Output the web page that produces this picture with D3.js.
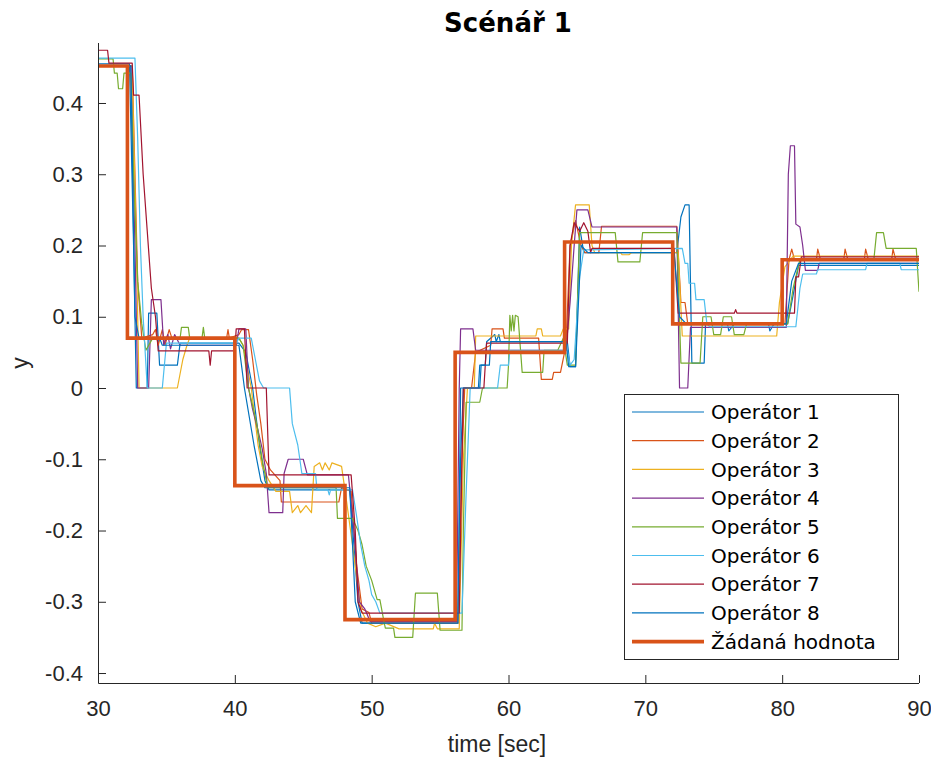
<!DOCTYPE html>
<html>
<head>
<meta charset="utf-8">
<script src="https://cdn.jsdelivr.net/npm/d3@7"></script>
<style>
  html, body { margin: 0; padding: 0; background: #fff; }
  svg { display: block; }
</style>
</head>
<body>
<script>
// ---------------- DATA ----------------
const chartTitle = "Scénář 1";
const xLabel = "time [sec]";
const yLabel = "y";
const xTicks = [30, 40, 50, 60, 70, 80, 90];
const yTicks = [-0.4, -0.3, -0.2, -0.1, 0, 0.1, 0.2, 0.3, 0.4];
const yTickLabels = ["-0.4", "-0.3", "-0.2", "-0.1", "0", "0.1", "0.2", "0.3", "0.4"];

const seriesNames = ["Operátor 1", "Operátor 2", "Operátor 3", "Operátor 4",
                     "Operátor 5", "Operátor 6", "Operátor 7", "Operátor 8"];
const seriesColors = ["#0072BD", "#D95319", "#EDB120", "#7E2F8E",
                      "#77AC30", "#4DBEEE", "#A2142F", "#0072BD"];

const refName = "Žádaná hodnota";
const refColor = "#D95319";
const refTimes  = [30, 32.15, 40, 48.05, 56.1, 64.1, 72, 80, 90];
const refValues = [0.452, 0.07, -0.137, -0.325, 0.05, 0.205, 0.09, 0.18, 0.18];

const op1 = [[30,0.455],[32.3,0.455],[32.6,0.2],[32.8,0.0],[33.6,0.0],[33.7,0.105],[34.3,0.105],[34.5,0.032],[35.8,0.032],[36.0,0.063],[40.3,0.063],[40.8,0.05],[41.3,0.0],[41.8,-0.08],[42.2,-0.13],[42.5,-0.143],[48.4,-0.143],[48.7,-0.22],[49.0,-0.3],[49.3,-0.33],[56.3,-0.33],[56.5,-0.1],[56.7,0.0],[57.8,0.0],[57.9,0.032],[58.3,0.032],[58.4,0.065],[59.0,0.075],[59.1,0.065],[59.3,0.075],[59.4,0.065],[64.3,0.065],[64.5,0.03],[64.9,0.03],[65.2,0.226],[65.5,0.19],[72.3,0.19],[72.6,0.24],[72.9,0.257],[73.2,0.257],[73.4,0.035],[74.3,0.035],[74.4,0.09],[76,0.09],[76.1,0.08],[76.5,0.09],[79,0.09],[79.1,0.08],[79.4,0.09],[80.4,0.09],[80.8,0.13],[81.2,0.172],[90,0.172]];
const op2 = [[30,0.452],[32.5,0.452],[32.9,0.15],[33.2,0.07],[34.0,0.075],[34.2,0.082],[34.4,0.06],[34.7,0.082],[34.9,0.06],[35.2,0.082],[35.4,0.07],[39.4,0.07],[39.5,0.082],[39.6,0.07],[40.3,0.075],[40.5,0.082],[41.0,0.082],[41.3,0.04],[41.6,-0.01],[41.9,-0.05],[42.2,-0.1],[42.6,-0.115],[43.3,-0.13],[43.4,-0.16],[47.6,-0.16],[47.8,-0.14],[48.5,-0.145],[48.9,-0.25],[49.3,-0.31],[49.8,-0.315],[50.0,-0.33],[56.3,-0.33],[56.6,-0.1],[56.8,0.0],[57.3,0.0],[57.6,0.05],[58.7,0.06],[58.8,0.083],[59.6,0.083],[59.7,0.07],[62.2,0.07],[62.4,0.012],[63.2,0.012],[63.3,0.022],[63.8,0.022],[64.2,0.06],[64.5,0.2],[64.9,0.235],[65.3,0.2],[65.6,0.19],[66.6,0.19],[66.8,0.227],[72.3,0.227],[72.6,0.12],[72.9,0.12],[73.1,0.09],[80.2,0.09],[80.5,0.18],[80.7,0.195],[80.9,0.18],[82.5,0.18],[82.6,0.195],[82.8,0.18],[84.5,0.18],[84.6,0.195],[84.8,0.18],[86,0.18],[86.1,0.195],[86.3,0.18],[88,0.18],[88.1,0.195],[88.3,0.18],[90,0.18]];
const op3 = [[30,0.452],[32.5,0.452],[32.8,0.2],[33.0,0.0],[35.8,0.0],[36.0,0.02],[36.2,0.04],[36.5,0.06],[36.7,0.07],[40.3,0.07],[40.6,0.06],[41.2,0.0],[41.7,-0.08],[42.0,-0.11],[42.5,-0.13],[43.0,-0.145],[44.0,-0.145],[44.2,-0.175],[44.6,-0.165],[44.8,-0.175],[45.2,-0.165],[45.6,-0.175],[45.8,-0.11],[46.2,-0.105],[46.4,-0.115],[46.6,-0.105],[46.9,-0.115],[47.1,-0.105],[47.8,-0.11],[48.1,-0.15],[48.6,-0.22],[49.2,-0.31],[49.7,-0.33],[50.3,-0.335],[51.0,-0.33],[52.0,-0.338],[54.5,-0.338],[54.6,-0.33],[54.8,-0.338],[56.4,-0.338],[56.7,-0.1],[57.0,0.0],[57.5,0.0],[57.6,0.073],[62.0,0.073],[62.1,0.083],[62.4,0.083],[62.5,0.073],[63.8,0.073],[64.0,0.083],[64.4,0.083],[64.6,0.2],[64.9,0.257],[65.9,0.257],[66.1,0.2],[66.3,0.19],[68.2,0.19],[68.3,0.187],[68.8,0.187],[69,0.19],[72.4,0.19],[72.7,0.073],[79.6,0.073],[79.8,0.12],[80.2,0.17],[80.8,0.185],[90,0.185]];
const op4 = [[30,0.452],[32.4,0.452],[32.7,0.2],[32.9,0.0],[33.7,0.0],[33.9,0.124],[34.6,0.124],[34.8,0.06],[35.1,0.075],[35.3,0.055],[35.6,0.075],[36.0,0.06],[40.1,0.06],[40.3,0.083],[40.8,0.083],[41.0,0.0],[41.3,-0.03],[41.7,-0.06],[42.0,-0.085],[42.3,-0.12],[42.5,-0.175],[43.5,-0.175],[43.6,-0.12],[43.9,-0.1],[45.0,-0.1],[45.3,-0.122],[48.3,-0.122],[48.7,-0.2],[49.1,-0.3],[49.5,-0.31],[49.9,-0.328],[56.2,-0.328],[56.4,0.0],[56.5,0.083],[57.4,0.083],[57.6,0.053],[64.2,0.053],[64.5,0.12],[64.8,0.2],[65.0,0.25],[65.8,0.25],[66.1,0.226],[72.3,0.226],[72.5,0.0],[73.1,0.0],[73.3,0.085],[80.3,0.085],[80.45,0.3],[80.6,0.34],[80.9,0.34],[81.0,0.23],[81.3,0.226],[81.5,0.2],[81.7,0.165],[82.6,0.165],[82.7,0.175],[90,0.175]];
const op5 = [[30,0.462],[31.1,0.462],[31.2,0.442],[31.4,0.442],[31.5,0.42],[31.8,0.42],[31.9,0.442],[32.4,0.442],[32.6,0.3],[32.9,0.15],[33.2,0.09],[33.5,0.053],[34.0,0.07],[36.0,0.07],[36.1,0.085],[36.6,0.085],[36.7,0.07],[37.6,0.07],[37.7,0.085],[37.8,0.07],[40.3,0.07],[40.6,0.06],[41.0,0.0],[41.6,-0.05],[42.0,-0.1],[42.4,-0.14],[47.4,-0.14],[47.5,-0.183],[48.6,-0.183],[49.0,-0.2],[49.3,-0.22],[49.6,-0.25],[50.0,-0.27],[50.4,-0.297],[50.6,-0.297],[50.9,-0.328],[51.0,-0.337],[51.6,-0.337],[51.7,-0.35],[53.0,-0.35],[53.2,-0.288],[54.8,-0.288],[55.0,-0.34],[56.6,-0.34],[56.7,-0.2],[56.9,-0.02],[57.9,-0.02],[58.1,0.0],[59.9,0.0],[60.0,0.032],[60.1,0.102],[60.2,0.08],[60.3,0.102],[60.4,0.08],[60.5,0.102],[60.7,0.1],[61.0,0.022],[62.5,0.022],[62.6,0.053],[63.6,0.053],[64.0,0.07],[64.3,0.032],[64.9,0.032],[65.2,0.218],[67.8,0.218],[68.0,0.177],[69.6,0.177],[69.8,0.218],[72.3,0.218],[72.6,0.035],[74.0,0.035],[74.2,0.1],[74.8,0.1],[75.0,0.075],[75.5,0.075],[75.7,0.1],[76.3,0.1],[76.5,0.075],[77.2,0.075],[77.4,0.09],[80.4,0.09],[80.8,0.14],[81.3,0.18],[86.7,0.18],[86.9,0.218],[87.4,0.218],[87.6,0.196],[89.8,0.196],[90,0.135]];
const op6 = [[30,0.463],[32.7,0.463],[32.9,0.35],[33.1,0.2],[33.3,0.1],[33.6,0.0],[34.7,0.0],[35.0,0.063],[40.1,0.063],[40.3,0.07],[41.2,0.07],[41.5,0.04],[41.8,0.01],[42.1,0.0],[44.0,0.0],[44.2,-0.05],[44.4,-0.065],[44.6,-0.08],[44.9,-0.12],[45.9,-0.12],[46.0,-0.143],[46.8,-0.143],[46.9,-0.15],[47.0,-0.143],[48.6,-0.143],[48.9,-0.18],[49.2,-0.22],[49.5,-0.25],[49.8,-0.27],[50.0,-0.29],[50.3,-0.3],[50.6,-0.316],[56.6,-0.316],[56.9,-0.15],[57.2,0.0],[59.2,0.0],[59.4,0.032],[60.0,0.032],[60.1,0.053],[64.3,0.053],[64.5,0.032],[64.8,0.04],[65.0,0.1],[65.2,0.156],[65.5,0.194],[72.7,0.196],[72.9,0.175],[73.1,0.175],[73.2,0.147],[73.6,0.147],[73.7,0.124],[74.3,0.124],[74.5,0.09],[74.7,0.086],[81.0,0.086],[81.3,0.14],[81.5,0.16],[82.5,0.16],[82.6,0.166],[86.1,0.166],[86.2,0.175],[88.6,0.175],[88.7,0.166],[90,0.166]];
const op7 = [[30,0.474],[30.7,0.474],[30.8,0.456],[32.5,0.456],[32.6,0.411],[33.0,0.411],[33.3,0.3],[33.6,0.22],[33.9,0.14],[34.2,0.1],[34.4,0.052],[38.1,0.052],[38.2,0.032],[38.3,0.052],[40.0,0.052],[40.1,0.083],[40.7,0.083],[40.9,0.0],[42.3,0.0],[42.5,-0.122],[48.5,-0.122],[48.8,-0.2],[49.0,-0.3],[49.3,-0.316],[56.4,-0.316],[56.6,-0.1],[56.7,0.0],[58.2,0.0],[58.4,0.063],[64.3,0.063],[64.5,0.2],[64.8,0.232],[65.2,0.22],[65.5,0.232],[65.8,0.22],[66.0,0.19],[66.1,0.196],[72.1,0.196],[72.4,0.105],[76.5,0.105],[76.6,0.11],[76.7,0.105],[80.9,0.105],[81.0,0.156],[81.2,0.156],[81.4,0.184],[90,0.184]];
const op8 = [[30,0.452],[32.4,0.452],[32.7,0.1],[33.0,0.07],[34.5,0.07],[34.7,0.06],[40.3,0.06],[40.7,0.0],[41.4,-0.08],[41.9,-0.13],[42.2,-0.14],[48.4,-0.14],[48.8,-0.3],[49.2,-0.33],[56.3,-0.33],[56.5,0.0],[57.9,0.0],[58.0,0.032],[58.6,0.032],[58.7,0.065],[64.2,0.065],[64.4,0.03],[64.9,0.03],[65.3,0.2],[65.8,0.19],[72.1,0.19],[72.5,0.1],[73.0,0.09],[80.3,0.09],[80.7,0.15],[81.2,0.175],[90,0.175]];
const operatorData = [op1, op2, op3, op4, op5, op6, op7, op8];

// ---------------- CHART ----------------
const W = 931, H = 757;
const svg = d3.select("body").append("svg").attr("width", W).attr("height", H);

const x = d3.scaleLinear().domain([30, 90]).range([98, 919]);
const y = d3.scaleLinear().domain([-0.414, 0.4842]).range([683, 43]);

const axisColor = "#262626";
const tickFont = "'Liberation Sans', Arial, sans-serif";

svg.append("clipPath").attr("id", "plotclip")
  .append("rect").attr("x", 98).attr("y", 43).attr("width", 821).attr("height", 640);

const plot = svg.append("g").attr("clip-path", "url(#plotclip)");

const line = d3.line().x(d => x(d[0])).y(d => y(d[1]));
operatorData.forEach((d, i) => {
  plot.append("path").datum(d)
    .attr("fill", "none").attr("stroke", seriesColors[i])
    .attr("stroke-width", 1.2).attr("stroke-linejoin", "round")
    .attr("d", line);
});

const refData = refTimes.map((t, i) => [t, refValues[i]]);
const refLine = d3.line().x(d => x(d[0])).y(d => y(d[1])).curve(d3.curveStepAfter);
plot.append("path").datum(refData)
  .attr("fill", "none").attr("stroke", refColor)
  .attr("stroke-width", 3.6).attr("stroke-linejoin", "miter")
  .attr("d", refLine);

// axes
const xAxis = d3.axisBottom(x).tickValues(xTicks).tickSize(-8).tickPadding(17).tickFormat(d3.format("d"));
const gx = svg.append("g").attr("transform", "translate(0,683)").call(xAxis);
const yAxis = d3.axisLeft(y).tickValues(yTicks).tickSize(-8).tickPadding(15)
  .tickFormat((d, i) => yTickLabels[i]);
const gy = svg.append("g").attr("transform", "translate(98,0)").call(yAxis);

[gx, gy].forEach(g => {
  g.select(".domain").attr("stroke", axisColor).attr("stroke-width", 1);
  g.selectAll(".tick line").attr("stroke", axisColor).attr("stroke-width", 1);
  g.selectAll(".tick text").attr("fill", "#262626")
    .style("font-family", tickFont).style("font-size", "22px");
});
gx.select(".domain").attr("d", "M98.5,0.5H919");
gy.select(".domain").attr("d", "M0.5,43V683.5");

// labels
svg.append("text").attr("x", 497).attr("y", 752).attr("text-anchor", "middle")
  .style("font-family", tickFont).style("font-size", "23px").attr("fill", "#262626")
  .text(xLabel);
svg.append("text").attr("transform", "translate(28,363) rotate(-90)").attr("text-anchor", "middle")
  .style("font-family", tickFont).style("font-size", "23px").attr("fill", "#262626")
  .text(yLabel);
svg.append("text").attr("x", 508).attr("y", 32).attr("text-anchor", "middle")
  .style("font-family", "'DejaVu Sans', sans-serif").style("font-weight", "bold").style("font-size", "26px")
  .attr("fill", "#000").text(chartTitle);

// legend
const legendItems = seriesNames.map((n, i) => ({name: n, color: seriesColors[i], w: 1.2}))
  .concat([{name: refName, color: refColor, w: 3.6}]);
const lg = svg.append("g");
lg.append("rect").attr("x", 624.5).attr("y", 394.5).attr("width", 274).attr("height", 265)
  .attr("fill", "#fff").attr("stroke", axisColor).attr("stroke-width", 1);
legendItems.forEach((it, i) => {
  const cy = 412 + i * 28.7;
  lg.append("line").attr("x1", 632).attr("x2", 704).attr("y1", cy).attr("y2", cy)
    .attr("stroke", it.color).attr("stroke-width", it.w);
  lg.append("text").attr("x", 711).attr("y", cy).attr("dy", "0.36em")
    .style("font-family", "'DejaVu Sans', sans-serif").style("font-size", "20px")
    .attr("fill", "#000").text(it.name);
});
</script>
</body>
</html>
